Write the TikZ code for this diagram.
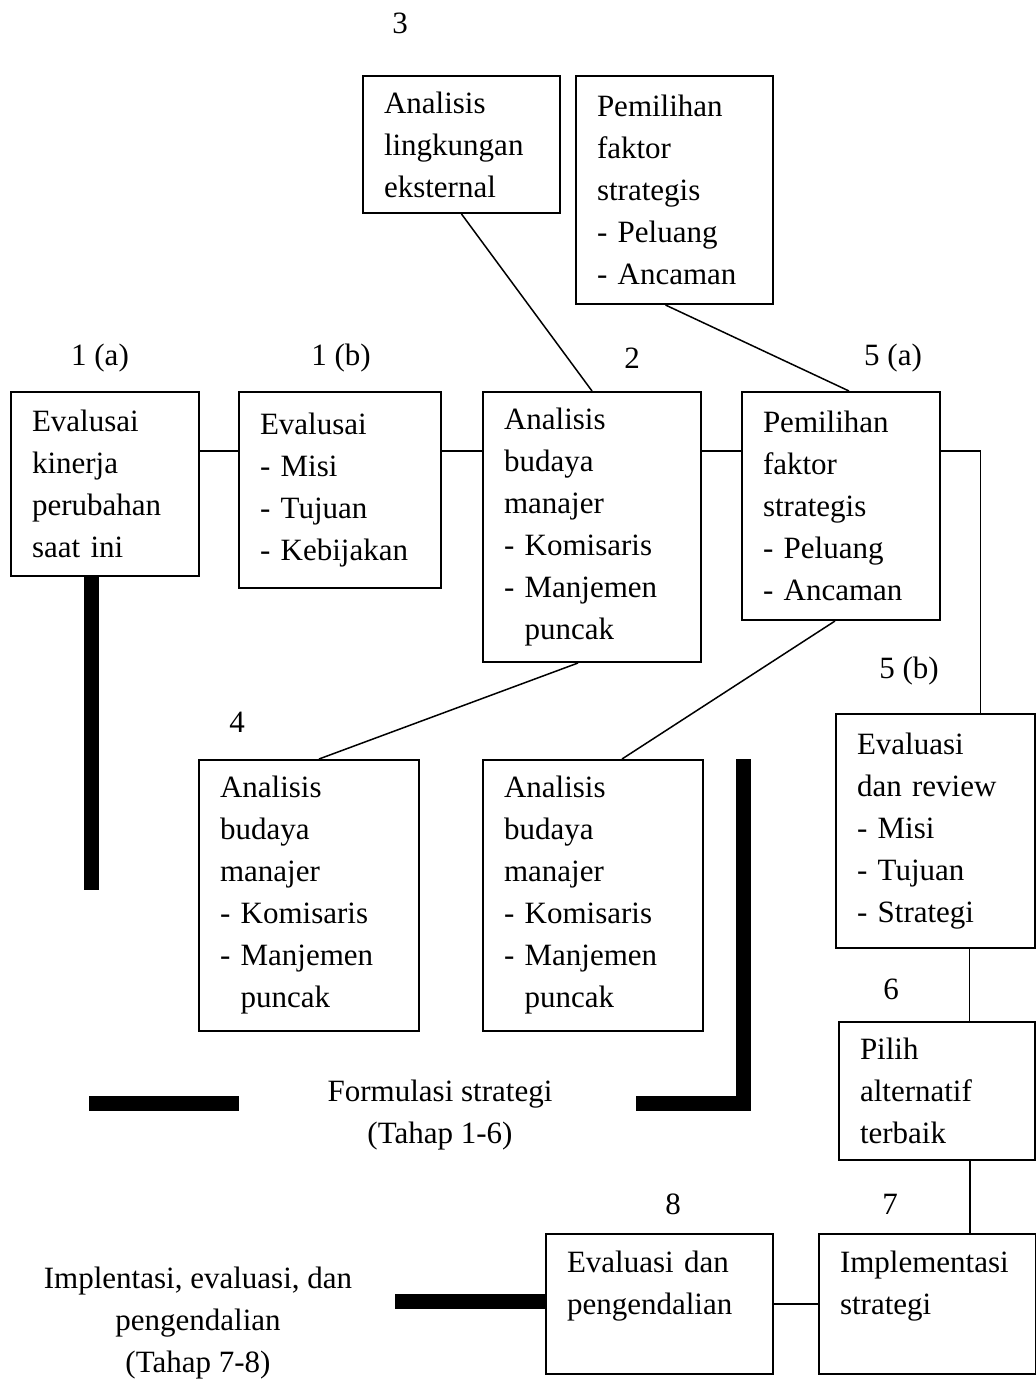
\documentclass[tikz,border=0pt]{standalone}
\usepackage{fontspec}
\setmainfont{Liberation Serif}
\usetikzlibrary{calc}

\begin{document}
\begin{tikzpicture}[x=1pt,y=-1pt,
  font=\fontsize{31}{42}\selectfont,
  kotak/.style={draw, line width=2pt, align=left, inner xsep=21pt, inner ysep=0pt, anchor=north west},
  garis/.style={line width=1.5pt},
  palang/.style={line width=15pt},
  nomor/.style={inner sep=0pt}]
\useasboundingbox (0,0) rectangle (1036,1382);

% nomor tahap
\foreach \nama/\teks/\x/\y in {n3/3/400/23, n1a/{1 (a)}/100/358, n1b/{1 (b)}/341/358,
    n2/2/632/358, n5a/{5 (a)}/893/358, n4/4/237/722, n5b/{5 (b)}/909/671,
    n6/6/891/989, n8/8/673/1204, n7/7/890/1204}
  \node[nomor] (\nama) at (\x,\y) {\teks};

% kotak atas
\node[kotak, text width=155pt, minimum height=137pt] (kA3) at (362,75) {Analisis\\lingkungan\\eksternal};
\node[kotak, text width=155pt, minimum height=228pt] (kP) at (575,75) {Pemilihan\\faktor\\strategis\\- Peluang\\- Ancaman};

% baris tahap 1-5
\node[kotak, text width=146pt, minimum height=184pt] (k1a) at (10,391) {Evalusai\\kinerja\\perubahan\\saat ini};
\node[kotak, text width=160pt, minimum height=196pt] (k1b) at (238,391) {Evalusai\\- Misi\\- Tujuan\\- Kebijakan};
\node[kotak, text width=176pt, minimum height=270pt] (k2) at (482,391) {Analisis\\budaya\\manajer\\- Komisaris\\- Manjemen\\\phantom{- }puncak};
\node[kotak, text width=156pt, minimum height=228pt] (k5a) at (741,391) {Pemilihan\\faktor\\strategis\\- Peluang\\- Ancaman};

% tahap 4
\node[kotak, text width=178pt, minimum height=271pt] (k4a) at (198,759) {Analisis\\budaya\\manajer\\- Komisaris\\- Manjemen\\\phantom{- }puncak};
\node[kotak, text width=178pt, minimum height=271pt] (k4b) at (482,759) {Analisis\\budaya\\manajer\\- Komisaris\\- Manjemen\\\phantom{- }puncak};

% kolom kanan
\node[kotak, text width=157pt, minimum height=234pt] (k5b) at (835,713) {Evaluasi\\dan review\\- Misi\\- Tujuan\\- Strategi};
\node[kotak, text width=154pt, minimum height=138pt] (k6) at (838,1021) {Pilih\\alternatif\\terbaik};
\node[kotak, text width=185pt, minimum height=140pt] (k8) at (545,1233) {Evaluasi dan\\pengendalian\\~};
\node[kotak, text width=175pt, minimum height=140pt] (k7) at (818,1233) {Implementasi\\strategi\\~};

% garis penghubung
\draw[garis] (kA3.south) -- (k2.north);
\draw[garis] ([xshift=-9pt]kP.south) -- ([xshift=8pt]k5a.north);
\draw[garis] ([yshift=-60pt]k1a.north east) -- ([yshift=-60pt]k1b.north west);
\draw[garis] ([yshift=-60pt]k1b.north east) -- ([yshift=-60pt]k2.north west);
\draw[garis] ([yshift=-60pt]k2.north east) -- ([yshift=-60pt]k5a.north west);
\draw[garis] ([yshift=-60pt]k5a.north east) -| ([xshift=45pt]k5b.north);
\draw[garis] ([xshift=-14pt]k2.south) -- ([xshift=10pt]k4a.north);
\draw[garis] ([xshift=-6pt]k5a.south) -- ([xshift=29pt]k4b.north);
\draw[garis] ([xshift=34pt]k5b.south) -- ([xshift=34pt]k5b.south |- k6.north);
\draw[garis] ([xshift=33pt]k6.south) -- ([xshift=33pt]k6.south |- k7.north);
\draw[garis] (k8.east) -- (k7.west);

% palang tebal
\draw[palang] ([xshift=-14pt]k1a.south) -- ++(0,313);
\draw[palang] (89,1103) -- (239,1103);
\draw[palang, line join=miter] (743,759) -- (743,1103) -- (636,1103);
\draw[palang] ([yshift=3pt]k8.west) -- ++(-150,0);

% keterangan
\node[align=center] (tFormulasi) at (440,1115) {Formulasi strategi\\(Tahap 1-6)};
\node[align=center] (tImplementasi) at (198,1323) {Implentasi, evaluasi, dan\\pengendalian\\(Tahap 7-8)};
\end{tikzpicture}
\end{document}
